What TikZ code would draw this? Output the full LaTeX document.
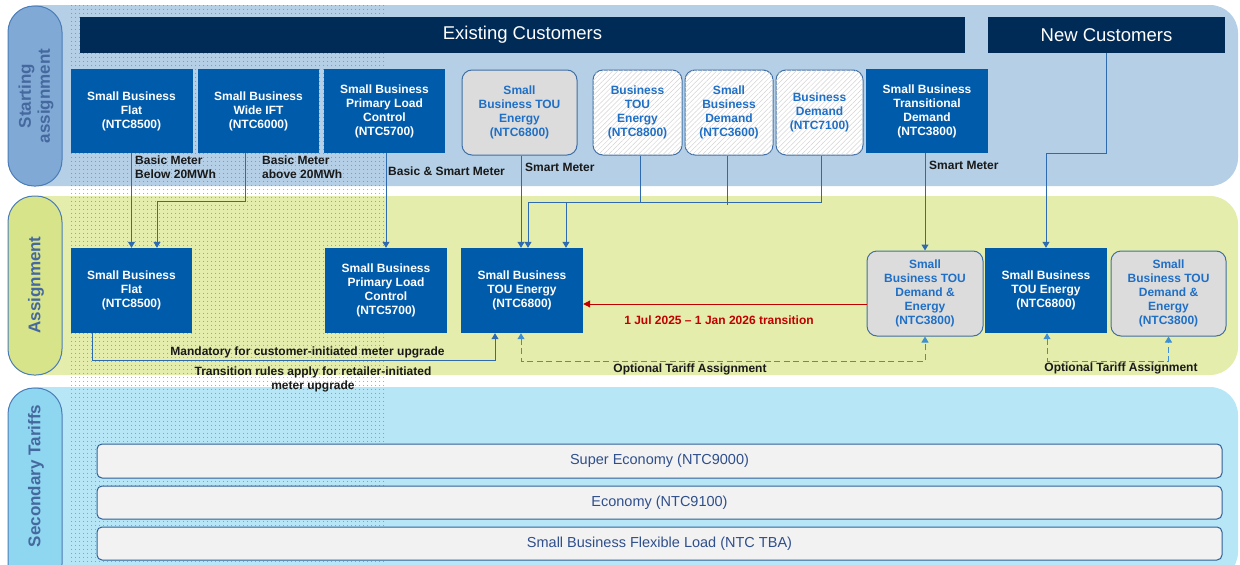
\documentclass[tikz,border=0pt]{standalone}
\usepackage{fontspec}
\setmainfont{Liberation Sans}
\usetikzlibrary{patterns.meta,arrows.meta}
\definecolor{bandA}{HTML}{B4CFE6}
\definecolor{bandB}{HTML}{E4EDAB}
\definecolor{bandC}{HTML}{B7E7F6}
\definecolor{pillA}{HTML}{80A9D5}
\definecolor{pillB}{HTML}{D8E489}
\definecolor{pillC}{HTML}{8FD6F1}
\definecolor{pillborder}{HTML}{4A7DB8}
\definecolor{pilltext}{HTML}{45699E}
\definecolor{navy}{HTML}{002B57}
\definecolor{boxblue}{HTML}{005BAA}
\definecolor{graybox}{HTML}{DCDCDC}
\definecolor{grayborder}{HTML}{3F6FA6}
\definecolor{graytext}{HTML}{1F6FC6}
\definecolor{conn}{HTML}{2E6AB0}
\definecolor{dashc}{HTML}{3D8FD1}
\definecolor{redc}{HTML}{C00000}
\definecolor{sectext}{HTML}{2F4F8C}
\definecolor{secfill}{HTML}{F2F2F2}
\definecolor{secborder}{HTML}{2E5F96}
\definecolor{dotc}{HTML}{4F78AA}
\tikzset{
  pillbox/.style={draw=pillborder, line width=1pt, rounded corners=26pt},
  pilllabel/.style={rotate=90, text=pilltext, font=\bfseries\fontsize{17}{19}\selectfont, align=center},
  hdr/.style={fill=navy, text=white, font=\fontsize{18.5}{20}\selectfont, minimum height=36pt, inner sep=0pt},
  bluebox/.style={fill=boxblue, text=white, font=\bfseries\fontsize{12}{14}\selectfont, align=center, minimum height=84pt, inner sep=0pt},
  graybase/.style={draw=grayborder, line width=1pt, rounded corners=10pt, text=graytext, font=\bfseries\fontsize{12}{14}\selectfont, align=center, minimum height=85pt, inner sep=0pt},
  grayfill/.style={graybase, fill=graybox},
  hatchbox/.style={graybase, fill=white, postaction={pattern={Lines[angle=45,distance=3.5pt,line width=0.5pt]}, pattern color=black!17}},
  secbox/.style={draw=secborder, line width=1pt, fill=secfill, rounded corners=5pt, text=sectext, font=\fontsize{14.5}{16}\selectfont, minimum width=1125pt, inner sep=0pt},
  lbl/.style={text=black!90, font=\bfseries\fontsize{12}{14}\selectfont, inner sep=0pt},
  arr/.style={draw=conn, line width=1pt, -{Triangle[width=7pt,length=6pt]}},
  plainc/.style={draw=conn, line width=1pt},
  dasharr/.style={draw=dashc, line width=1pt, dash pattern=on 6pt off 3.5pt, {Triangle[width=7pt,length=6pt]}-{Triangle[width=7pt,length=6pt]}},
  redarr/.style={draw=redc, line width=1pt, -{Triangle[width=7pt,length=7pt]}}
}
\begin{document}
\begin{tikzpicture}[x=1pt,y=-1pt]
\useasboundingbox (0,0) rectangle (1240,565);
\begin{scope}
\clip (0,0) rectangle (1240,565);
% bands
\fill[bandA, rounded corners=28pt] (10,5) rectangle (1238,186);
\fill[bandB, rounded corners=28pt] (10,196) rectangle (1238,375);
\fill[bandC, rounded corners=28pt] (10,387) rectangle (1238,580);
% dotted overlay
\fill[pattern={Dots[distance=4pt,radius=0.55pt]}, pattern color=dotc] (70,5) rectangle (385,565);
% pills
\draw[pillbox, fill=pillA] (8,6) rectangle (62,186);
\draw[pillbox, fill=pillB] (8,196) rectangle (62,375);
\draw[pillbox, fill=pillC] (8,388) rectangle (62,590);
\end{scope}
\node[pilllabel] (pl1) at (36,96) {Starting\\assignment};
\node[pilllabel] (pl2) at (36,285) {Assignment};
\node[pilllabel] (pl3) at (36,476) {Secondary Tariffs};

% headers
\node[hdr, minimum width=885pt] (exist) at (522.5,35) {Existing Customers};
\node[hdr, minimum width=237pt] (new) at (1106.5,35) {New Customers};

% starting row
\node[bluebox, minimum width=122pt] (flatS) at (131.5,111) {Small Business\\Flat\\(NTC8500)};
\node[bluebox, minimum width=121pt] (wideS) at (258.5,111) {Small Business\\Wide IFT\\(NTC6000)};
\node[bluebox, minimum width=121pt] (plcS) at (384.5,111) {Small Business\\Primary Load\\Control\\(NTC5700)};
\node[grayfill, minimum width=115pt] (touS) at (519.5,112.5) {Small\\Business TOU\\Energy\\(NTC6800)};
\node[hatchbox, minimum width=89pt] (bteS) at (637.5,112.5) {Business\\TOU\\Energy\\(NTC8800)};
\node[hatchbox, minimum width=88pt] (sbdS) at (729,112.5) {Small\\Business\\Demand\\(NTC3600)};
\node[hatchbox, minimum width=87pt] (bdS) at (819.5,112.5) {Business\\Demand\\(NTC7100)};
\node[bluebox, minimum width=122pt] (trdS) at (927,111) {Small Business\\Transitional\\Demand\\(NTC3800)};

% assignment row
\node[bluebox, minimum width=121pt, minimum height=85pt] (flatA) at (131.5,290.5) {Small Business\\Flat\\(NTC8500)};
\node[bluebox, minimum width=122pt, minimum height=85pt] (plcA) at (386,290.5) {Small Business\\Primary Load\\Control\\(NTC5700)};
\node[bluebox, minimum width=122pt, minimum height=85pt] (touA) at (522,290.5) {Small Business\\TOU Energy\\(NTC6800)};
\node[grayfill, minimum width=116pt] (tdeA) at (925,293.5) {Small\\Business TOU\\Demand \&\\Energy\\(NTC3800)};
\node[bluebox, minimum width=122pt, minimum height=85pt] (touN) at (1046,290.5) {Small Business\\TOU Energy\\(NTC6800)};
\node[grayfill, minimum width=115pt] (tdeN) at (1168.5,293.5) {Small\\Business TOU\\Demand \&\\Energy\\(NTC3800)};

% secondary tariffs
\node[secbox, minimum height=34pt] (sec1) at (659.5,461) {Super Economy (NTC9000)};
\node[secbox, minimum height=33pt] (sec2) at (659.5,502.5) {Economy (NTC9100)};
\node[secbox, minimum height=33pt] (sec3) at (659.5,543.5) {Small Business Flexible Load (NTC TBA)};

% connectors top to assignment
\draw[arr] (flatS.south) -- (flatA.north);
\draw[arr] ([xshift=-13.5pt]wideS.south) -- ++(0,48) -| ([xshift=25.5pt]flatA.north);
\draw[arr] ([xshift=1.5pt]plcS.south) -- (plcA.north);
\draw[arr] ([xshift=1.5pt]touS.south) -- ([xshift=-1pt]touA.north);
\draw[arr] ([xshift=2.5pt]bteS.south) -- ++(0,47) -| ([xshift=6pt]touA.north);
\draw[arr] ([xshift=1.5pt]bdS.south) -- ++(0,47) -| ([xshift=44pt]touA.north);
\draw[plainc] ([xshift=-2pt]sbdS.south) -- ++(0,49);
\draw[arr] ([xshift=-2pt]trdS.south) -- (tdeA.north);
\draw[arr] (new.south) -- ++(0,100) -| (touN.north);

% labels on top connectors
\node[lbl, anchor=north west, align=left] (l1) at (135,156) {Basic Meter\\Below 20MWh};
\node[lbl, anchor=north west, align=left] (l2) at (262,156) {Basic Meter\\above 20MWh};
\node[lbl, anchor=west] (l3) at (388,171) {Basic \& Smart Meter};
\node[lbl, anchor=west] (l4) at (525,167) {Smart Meter};
\node[lbl, anchor=west] (l5) at (929,165) {Smart Meter};

% red transition
\draw[redarr] ([yshift=-10.5pt]tdeA.west) -- ([yshift=-13.5pt]touA.east);
\node[lbl, text=redc] (rl) at (719,320) {1 Jul 2025 -- 1 Jan 2026 transition};

% mandatory
\draw[arr] ([xshift=-39.5pt]flatA.south) -- ++(0,27) -| ([xshift=-27pt]touA.south);
\node[lbl] (ml) at (307.5,352) {Mandatory for customer-initiated meter upgrade};
\node[lbl, align=center] (tl) at (313,379) {Transition rules apply for retailer-initiated\\meter upgrade};

% optional
\draw[dasharr] ([xshift=-1pt]touA.south) -- ++(0,28) -| (tdeA.south);
\node[lbl] (ol1) at (690,369) {Optional Tariff Assignment};
\draw[dasharr] ([xshift=1pt]touN.south) -- ++(0,28) -| (tdeN.south);
\node[lbl] (ol2) at (1121,368) {Optional Tariff Assignment};
\end{tikzpicture}
\end{document}
